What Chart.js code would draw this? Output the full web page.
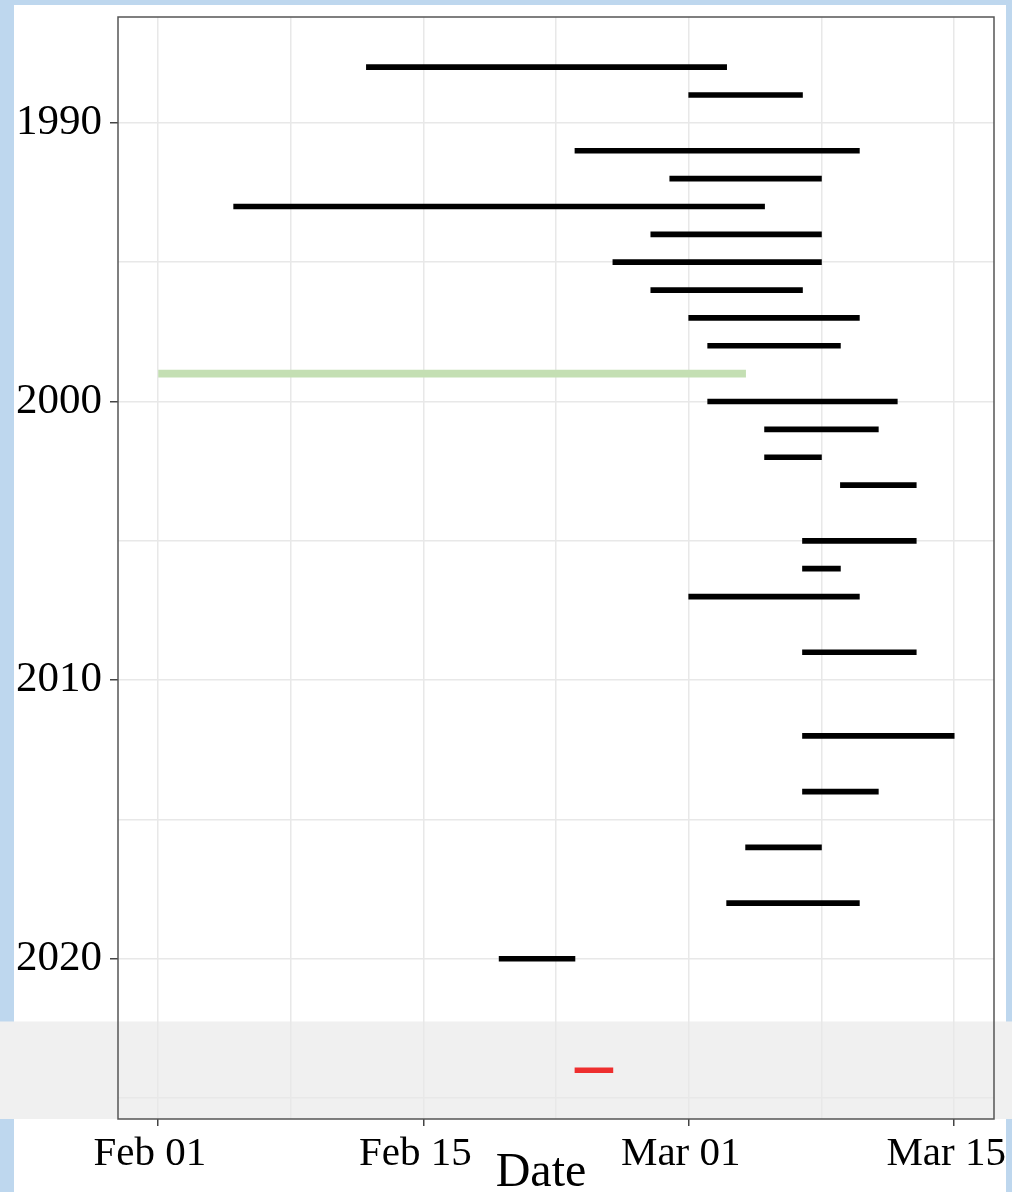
<!DOCTYPE html>
<html>
<head>
<meta charset="utf-8">
<script src="https://cdn.jsdelivr.net/npm/chart.js@4/dist/chart.umd.min.js"></script>
<style>
    html, body { margin: 0; padding: 0; background: #bed7ee; }
    .panel { position: absolute; left: 14px; top: 5px; width: 992px; height: 1187px; background: #ffffff; }
    #periodChart { position: absolute; left: 0; top: 0; }
</style>
</head>
<body>
<div class="panel"></div>
<canvas id="periodChart" width="1012" height="1192"></canvas>
<script>
// season years and their start / end, as days counted from Feb 01
const years = [1988, 1989, 1991, 1992, 1993, 1994, 1995, 1996, 1997, 1998, 1999, 2000, 2001,
    2002, 2003, 2005, 2006, 2007, 2009, 2012, 2014, 2016, 2018, 2020, 2024];
const startDay = [11, 28, 22, 27, 4, 26, 24, 26, 28, 29, 0, 29, 32,
    32, 36, 34, 34, 28, 34, 34, 34, 31, 30, 18, 22];
const endDay = [30, 34, 37, 35, 32, 35, 35, 34, 37, 36, 31, 39, 38,
    35, 40, 40, 36, 37, 40, 42, 38, 35, 37, 22, 24];

const highlightYear = 1999;
const currentYear = 2024;

const xTicks = [0, 7, 14, 21, 28, 35, 42];
const xTickLabels = { 0: 'Feb 01', 14: 'Feb 15', 28: 'Mar 01', 42: 'Mar 15' };
const yTicks = [1990, 1995, 2000, 2005, 2010, 2015, 2020, 2025];
const yTickLabels = { 1990: '1990', 2000: '2000', 2010: '2010', 2020: '2020' };

document.addEventListener('DOMContentLoaded', () => {
    createPeriodChart();
});

function pointsFor(filterFn) {
    const pts = [];
    years.forEach((y, i) => {
        if (filterFn(y)) pts.push({ x: [startDay[i], endDay[i]], y: y });
    });
    return pts;
}

function majorTickColor(labels) {
    return c => (c.tick && labels[c.tick.value] ? '#444444' : 'rgba(0,0,0,0)');
}

const panelPlugin = {
    id: 'panelPlugin',
    beforeDraw(chart) {
        const { ctx, chartArea, scales } = chart;
        const top = scales.y.getPixelForValue(2022.25);
        ctx.save();
        ctx.fillStyle = '#f0f0f0';
        ctx.fillRect(0, top, chart.width, chartArea.bottom - top);
        ctx.restore();
    },
    afterDraw(chart) {
        const { ctx, chartArea } = chart;
        ctx.save();
        ctx.strokeStyle = '#555555';
        ctx.lineWidth = 1.5;
        ctx.strokeRect(chartArea.left, chartArea.top, chartArea.right - chartArea.left, chartArea.bottom - chartArea.top);
        ctx.fillStyle = '#000000';
        ctx.font = '48px "Liberation Serif"';
        ctx.textAlign = 'center';
        ctx.textBaseline = 'alphabetic';
        ctx.fillText('Date', 541, 1186);
        ctx.restore();
    }
};

function createPeriodChart() {
    const ctx = document.getElementById('periodChart').getContext('2d');
    new Chart(ctx, {
        type: 'bar',
        data: {
            datasets: [{
                label: 'Past years',
                data: pointsFor(y => y !== highlightYear && y !== currentYear),
                backgroundColor: '#000000',
                barThickness: 5
            }, {
                label: String(highlightYear),
                data: pointsFor(y => y === highlightYear),
                backgroundColor: '#c4dfb3',
                barThickness: 7
            }, {
                label: String(currentYear),
                data: pointsFor(y => y === currentYear),
                backgroundColor: '#ee2e2e',
                barThickness: 5
            }]
        },
        options: {
            indexAxis: 'y',
            responsive: false,
            animation: false,
            grouped: false,
            borderSkipped: false,
            borderWidth: 0,
            layout: {
                padding: { left: 0, top: 17, right: 18, bottom: 0 }
            },
            plugins: {
                legend: { display: false },
                tooltip: { enabled: false }
            },
            scales: {
                x: {
                    type: 'linear',
                    min: -2.1,
                    max: 44.1,
                    afterBuildTicks: scale => { scale.ticks = xTicks.map(v => ({ value: v })); },
                    afterFit: scale => {
                        scale.height = 73;
                        scale.paddingLeft = 0;
                        scale.paddingRight = 0;
                    },
                    border: { display: false },
                    grid: {
                        color: '#e8e8e8',
                        lineWidth: 1.5,
                        tickLength: 7,
                        tickWidth: 1.5,
                        tickColor: majorTickColor(xTickLabels)
                    },
                    ticks: {
                        color: '#000000',
                        padding: 4,
                        labelOffset: -8,
                        maxRotation: 0,
                        autoSkip: false,
                        font: { family: 'Liberation Serif', size: 41 },
                        callback: v => xTickLabels[v] || ''
                    }
                },
                y: {
                    type: 'linear',
                    reverse: true,
                    offset: false,
                    min: 1986.2,
                    max: 2025.75,
                    afterBuildTicks: scale => { scale.ticks = yTicks.map(v => ({ value: v })); },
                    afterFit: scale => {
                        scale.width = 118;
                        scale.paddingTop = 0;
                        scale.paddingBottom = 0;
                    },
                    border: { display: false },
                    grid: {
                        offset: false,
                        color: '#e8e8e8',
                        lineWidth: 1.5,
                        tickLength: 8,
                        tickWidth: 1.5,
                        tickColor: majorTickColor(yTickLabels)
                    },
                    ticks: {
                        color: '#000000',
                        padding: 8,
                        autoSkip: false,
                        font: { family: 'Liberation Serif', size: 43 },
                        callback: v => yTickLabels[v] || ''
                    }
                }
            }
        },
        plugins: [panelPlugin]
    });
}
</script>
</body>
</html>
